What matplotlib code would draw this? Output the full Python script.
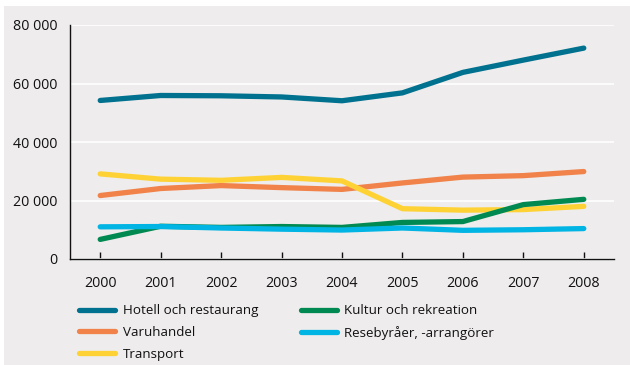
import matplotlib
matplotlib.use("Agg")
import matplotlib.pyplot as plt
from matplotlib.patches import Rectangle
from matplotlib.ticker import FuncFormatter

years = [2000, 2001, 2002, 2003, 2004, 2005, 2006, 2007, 2008]

hotell = [54200, 55900, 55800, 55400, 54100, 56800, 63800, 68000, 72100]
varuhandel = [21700, 24100, 25100, 24400, 23800, 26000, 28000, 28500, 29900]
transport = [29100, 27300, 26900, 27900, 26700, 17200, 16700, 16900, 18000]
kultur = [6700, 11200, 10800, 11100, 10800, 12500, 12800, 18600, 20400]
resebyraer = [11000, 11100, 10600, 10200, 9900, 10600, 9800, 10000, 10400]

series = [
  ("Hotell och restaurang", hotell, "#00718f"),
  ("Varuhandel", varuhandel, "#f0824a"),
  ("Transport", transport, "#fed235"),
  ("Kultur och rekreation", kultur, "#008a52"),
  ("Resebyråer, -arrangörer", resebyraer, "#00b4e4"),
]

plt.rcParams["font.family"] = ["Open Sans", "DejaVu Sans"]
bg = "#eeecec"
ink = "#111111"

fig = plt.figure(figsize=(6.3, 3.65), dpi=100)
fig.patch.set_facecolor("white")
# grey panel behind everything
fig.patches.append(Rectangle((4/630, 0), 1, 1 - 6/365, transform=fig.transFigure,
                             facecolor=bg, edgecolor="none", zorder=-5))

ax = fig.add_axes([70/630, 1 - 259/365, 544/630, 234/365])
ax.set_facecolor(bg)

for name, vals, color in series:
  ax.plot(years, vals, color=color, lw=3.8, solid_capstyle="round",
          solid_joinstyle="round", label=name, zorder=3)

ax.set_xlim(1999.5, 2008.5)
ax.set_ylim(0, 80000)
ax.set_xticks(years)
ax.set_yticks([0, 20000, 40000, 60000, 80000])
ax.yaxis.set_major_formatter(FuncFormatter(lambda v, p: "{:,}".format(int(v)).replace(",", " ")))
ax.grid(axis="y", color="white", lw=1.2, zorder=1)
ax.set_axisbelow(True)

for s in ["top", "right"]:
  ax.spines[s].set_visible(False)
for s in ["left", "bottom"]:
  ax.spines[s].set_color(ink)
  ax.spines[s].set_linewidth(1.0)

ax.tick_params(axis="x", direction="in", length=5, width=1, color=ink,
               pad=12, labelsize=10.3, labelcolor=ink)
ax.tick_params(axis="y", length=0, pad=9, labelsize=10.3, labelcolor=ink)

handles, labels = ax.get_legend_handles_labels()
leg = fig.legend(handles, labels, ncol=2, loc="upper left",
                 bbox_to_anchor=(74/630, 1 - 299/365), frameon=False,
                 fontsize=9.6, handlelength=2.7, handletextpad=0.55,
                 columnspacing=3.2, labelspacing=0.66, borderaxespad=0)
for line in leg.get_lines():
  line.set_linewidth(3.8)
  line.set_solid_capstyle("round")
for t in leg.get_texts():
  t.set_color(ink)

fig.savefig("out.png", dpi=100, facecolor=fig.get_facecolor())
